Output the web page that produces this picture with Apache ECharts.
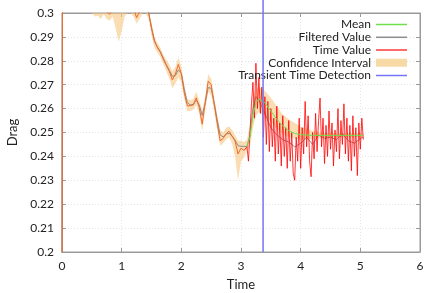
<!DOCTYPE html>
<html><head><meta charset="utf-8">
<script src="https://cdn.jsdelivr.net/npm/echarts@6/dist/echarts.min.js"></script>
<style>html,body{margin:0;padding:0;background:#fff}#c{width:439px;height:293px}</style>
</head><body><div id="c"></div>
<script>
// ---- data ----
const timeA = [0,0.01,0.05,0.1,0.15,0.2,0.25,0.3,0.35,0.4,0.45,0.5,0.55,0.6,0.65,0.7,0.75,0.8,0.85,0.9,0.95,1,1.05,1.1,1.15,1.2,1.25,1.3,1.35,1.4,1.45,1.5,1.55,1.6,1.65,1.7,1.75,1.8,1.85,1.9,1.95,2,2.05,2.1,2.15,2.2,2.25,2.3,2.35,2.4,2.45,2.5,2.55,2.6,2.65,2.7,2.75,2.8,2.85,2.9,2.95,3,3.05];
const valueA = [0.18,0.33,0.325,0.32,0.318,0.316,0.315,0.313,0.312,0.311,0.309,0.308,0.306,0.304,0.302,0.3015,0.3005,0.2995,0.3015,0.303,0.3035,0.304,0.305,0.305,0.304,0.302,0.298,0.3005,0.304,0.303,0.3005,0.294,0.2885,0.2855,0.2835,0.2805,0.278,0.2755,0.272,0.2745,0.2785,0.2745,0.2665,0.2612,0.2612,0.2615,0.2645,0.2605,0.2535,0.2625,0.2715,0.27,0.262,0.254,0.2465,0.2475,0.2495,0.2505,0.2485,0.2465,0.241,0.2435,0.2425];
const filteredA = [0.18,0.33,0.326,0.321,0.318,0.316,0.315,0.313,0.312,0.311,0.309,0.308,0.306,0.3045,0.303,0.302,0.3015,0.301,0.3015,0.3025,0.3035,0.304,0.3045,0.3045,0.304,0.3025,0.301,0.3015,0.303,0.3025,0.3005,0.2935,0.288,0.2857,0.2837,0.281,0.2783,0.276,0.2735,0.2738,0.2762,0.2748,0.268,0.2625,0.2615,0.2618,0.2635,0.2615,0.2572,0.2622,0.2688,0.2685,0.2625,0.2555,0.249,0.2482,0.2493,0.2497,0.2485,0.2468,0.2445,0.2442,0.2442];
const bandLoA = [0.18,0.325,0.322,0.318,0.316,0.314,0.313,0.311,0.31,0.309,0.306,0.3035,0.2985,0.2988,0.2975,0.2995,0.2975,0.2968,0.2985,0.2935,0.288,0.2925,0.2985,0.301,0.3005,0.2985,0.2955,0.2975,0.301,0.3,0.2975,0.2905,0.2855,0.2835,0.2815,0.2785,0.2755,0.2725,0.2685,0.2705,0.273,0.271,0.264,0.259,0.259,0.2595,0.2615,0.258,0.2505,0.2595,0.267,0.2655,0.259,0.2515,0.2445,0.2455,0.247,0.248,0.2455,0.24,0.23,0.238,0.2395];
const bandHiA = [0.18,0.335,0.328,0.323,0.32,0.318,0.317,0.315,0.314,0.313,0.312,0.311,0.309,0.307,0.305,0.304,0.303,0.302,0.304,0.306,0.307,0.307,0.307,0.307,0.3065,0.305,0.3025,0.303,0.306,0.305,0.3025,0.296,0.29,0.2875,0.2855,0.2825,0.2805,0.2785,0.2755,0.2775,0.2815,0.2775,0.27,0.264,0.2635,0.264,0.267,0.2635,0.2595,0.265,0.2745,0.2725,0.265,0.2575,0.251,0.25,0.252,0.2525,0.251,0.249,0.2465,0.2465,0.246];

const timeB = [3.1,3.125,3.15,3.175,3.2,3.225,3.25,3.275,3.3,3.325,3.35,3.375,3.4,3.425,3.45,3.475,3.5,3.525,3.55,3.575,3.6,3.625,3.65,3.675,3.7,3.725,3.75,3.775,3.8,3.825,3.85,3.875,3.9,3.925,3.95,3.975,4,4.025,4.05,4.075,4.1,4.125,4.15,4.175,4.2,4.225,4.25,4.275,4.3,4.325,4.35,4.375,4.4,4.425,4.45,4.475,4.5,4.525,4.55,4.575,4.6,4.625,4.65,4.675,4.7,4.725,4.75,4.775,4.8,4.825,4.85,4.875,4.9,4.925,4.95,4.975,5,5.025,5.05];
const valueB = [0.244,0.238,0.25,0.262,0.271,0.256,0.279,0.26,0.273,0.258,0.269,0.248,0.265,0.245,0.263,0.242,0.26,0.244,0.256,0.238,0.261,0.241,0.254,0.236,0.257,0.24,0.252,0.235,0.255,0.238,0.25,0.233,0.23,0.248,0.238,0.256,0.235,0.252,0.241,0.263,0.244,0.257,0.238,0.2315,0.25,0.239,0.258,0.242,0.255,0.2644,0.244,0.256,0.237,0.253,0.24,0.259,0.243,0.254,0.236,0.251,0.242,0.26,0.239,0.255,0.245,0.262,0.241,0.256,0.238,0.253,0.234,0.257,0.24,0.252,0.232,0.254,0.243,0.256,0.247];

const timeC = [3.1,3.15,3.2,3.25,3.3,3.4,3.5,3.6,3.7,3.8,3.9,4,4.1,4.2,4.3,4.4,4.5,4.6,4.7,4.8,4.9,5,5.05];
const meanC = [0.2445,0.248,0.257,0.2625,0.264,0.2625,0.259,0.2555,0.2528,0.2508,0.2496,0.2491,0.2489,0.2488,0.2488,0.2488,0.2488,0.2488,0.2488,0.2488,0.2488,0.2488,0.2488];
const filteredC = [0.244,0.249,0.26,0.265,0.2635,0.258,0.252,0.249,0.247,0.246,0.244,0.2455,0.248,0.245,0.249,0.2475,0.248,0.247,0.2495,0.2465,0.2455,0.2475,0.248];
const bandLoC = [0.2425,0.244,0.252,0.257,0.2585,0.257,0.2545,0.2515,0.2495,0.248,0.2475,0.2472,0.2472,0.2474,0.2476,0.2478,0.2479,0.248,0.248,0.248,0.248,0.248,0.248];
const bandHiC = [0.247,0.253,0.264,0.268,0.269,0.2675,0.2645,0.261,0.2575,0.2555,0.254,0.2525,0.2515,0.2508,0.2502,0.2499,0.2498,0.2497,0.2497,0.2497,0.2497,0.2497,0.2497];

const transientTime = 3.37;
const xTickStep = 1, xMin = 0, xMax = 6;
const yTickStep = 0.01, yMin = 0.2, yMax = 0.3;
const legendNames = ['Mean','Filtered Value','Time Value','Confidence Interval','Transient Time Detection'];

// ---- build ----
const zip = (xs, ys) => xs.map((x, i) => [x, ys[i]]);
const timeValueA = zip(timeA, valueA);
const timeValueB = [timeValueA[timeValueA.length - 1]].concat(zip(timeB, valueB));
const filtered = zip(timeA, filteredA).concat(zip(timeC, filteredC));
const mean = zip(timeC, meanC);
const bandT = timeA.concat(timeC), bandLo = bandLoA.concat(bandLoC), bandHi = bandHiA.concat(bandHiC);

const C = {
  mean: '#6ee04c', filtered: '#8c8c8c', timeEarly: '#ee6a2e', time: 'rgba(255,0,0,0.78)',
  band: 'rgba(246,198,128,0.6)', bandLegend: '#f7d9a6', blue: '#7474f4', axis: '#9a9a9a', text: '#222'
};
const FONT = 'Lato';
const legendCenters = [25.5, 38.3, 51, 63.7, 76.5];
const legendIconH = [1.5, 1.5, 1.5, 8, 1.5];

const chart = echarts.init(document.getElementById('c'), null, {renderer: 'canvas'});
chart.setOption({
  animation: false,
  backgroundColor: '#fff',
  grid: {left: 62, right: 19, top: 13, bottom: 41, show: true, borderColor: C.axis, borderWidth: 1, outerBoundsMode: 'none', containLabel: false},
  legend: legendNames.map((n, i) => ({
    data: [{name: n, icon: 'rect'}], right: 32, top: legendCenters[i] - 7, padding: 0,
    orient: 'horizontal', align: 'right', itemWidth: 31, itemHeight: legendIconH[i], selectedMode: false,
    textStyle: {fontFamily: FONT, fontSize: 12, color: C.text}
  })),
  xAxis: [{
    type: 'value', min: xMin, max: xMax, interval: xTickStep, position: 'bottom',
    name: 'Time', nameLocation: 'middle', nameGap: 26,
    nameTextStyle: {fontFamily: FONT, fontSize: 13, color: C.text},
    axisLine: {show: true, onZero: false, lineStyle: {color: C.axis}},
    axisTick: {show: true, inside: true, length: 4, lineStyle: {color: C.axis}},
    axisLabel: {margin: 8, fontFamily: FONT, fontSize: 12, color: C.text},
    splitLine: {show: true, lineStyle: {color: '#e4e4e4', type: [1, 2]}}
  }, {
    type: 'value', min: xMin, max: xMax, interval: xTickStep, position: 'top',
    axisLine: {show: true, onZero: false, lineStyle: {color: C.axis}},
    axisTick: {show: true, inside: true, length: 4, lineStyle: {color: C.axis}},
    axisLabel: {show: false}, splitLine: {show: false}
  }],
  yAxis: [{
    type: 'value', min: yMin, max: yMax, interval: yTickStep, position: 'left',
    name: 'Drag', nameLocation: 'middle', nameGap: 43, nameRotate: 90,
    nameTextStyle: {fontFamily: FONT, fontSize: 13, color: C.text},
    axisLine: {show: true, onZero: false, lineStyle: {color: C.axis}},
    axisTick: {show: true, inside: true, length: 4, lineStyle: {color: C.axis}},
    axisLabel: {margin: 8, fontFamily: FONT, fontSize: 12, color: C.text,
      formatter: v => String(+v.toFixed(3))},
    splitLine: {show: true, lineStyle: {color: '#e4e4e4', type: [1, 2]}}
  }, {
    type: 'value', min: yMin, max: yMax, interval: yTickStep, position: 'right',
    axisLine: {show: true, onZero: false, lineStyle: {color: C.axis}},
    axisTick: {show: true, inside: true, length: 4, lineStyle: {color: C.axis}},
    axisLabel: {show: false}, splitLine: {show: false}
  }],
  series: [
    {
      name: 'Confidence Interval', type: 'custom', xAxisIndex: 0, yAxisIndex: 0, data: [[bandT[0], bandLo[0]]], z: 1,
      itemStyle: {color: C.bandLegend}, silent: true, clip: true,
      renderItem: function (params, api) {
        const lower = bandT.map((t, i) => api.coord([t, bandLo[i]]));
        const upper = bandT.map((t, i) => api.coord([t, bandHi[i]])).reverse();
        const pts = echarts.graphic.clipPointsByRect(lower.concat(upper), params.coordSys);
        return {type: 'polygon', shape: {points: pts}, style: {fill: C.band}};
      }
    },
    {name: 'Time Value', type: 'line', data: timeValueB, showSymbol: false, symbol: 'none', z: 3,
      itemStyle: {color: C.time}, lineStyle: {color: C.time, width: 1}},
    {name: 'Filtered Value', type: 'line', data: filtered, showSymbol: false, symbol: 'none', z: 2,
      itemStyle: {color: C.filtered}, lineStyle: {color: C.filtered, width: 1}},
    {name: 'Time Value', type: 'line', data: timeValueA, showSymbol: false, symbol: 'none', z: 3,
      itemStyle: {color: C.timeEarly}, lineStyle: {color: C.timeEarly, width: 1}},
    {name: 'Mean', type: 'line', data: mean, showSymbol: false, symbol: 'none', z: 4,
      itemStyle: {color: C.mean}, lineStyle: {color: C.mean, width: 1}},
    {name: 'Transient Time Detection', type: 'line', clip: false, showSymbol: false, symbol: 'none', z: 5,
      data: [[transientTime, yMin], [transientTime, yMax + 0.0055]],
      itemStyle: {color: C.blue}, lineStyle: {color: C.blue, width: 1.5}}
  ]
});
</script></body></html>
